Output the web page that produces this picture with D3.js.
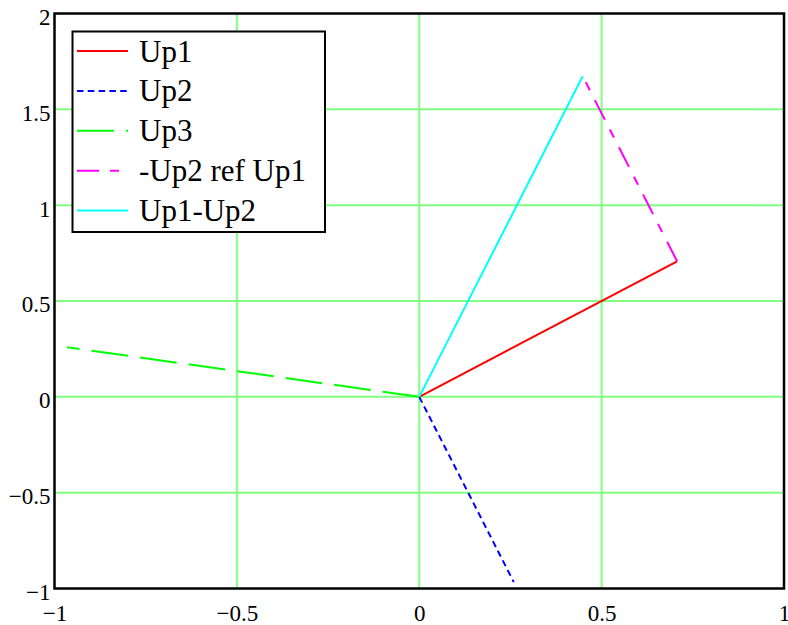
<!DOCTYPE html>
<html>
<head>
<meta charset="utf-8">
<script src="https://cdn.jsdelivr.net/npm/d3@7"></script>
<style>
  html, body { margin: 0; padding: 0; background: #fff; }
  svg { display: block; }
</style>
</head>
<body>
<svg id="chart" width="788" height="625"></svg>
<script>
// Phasor end points (x, y); every series is a straight segment between two points
const seriesNames = ["Up1", "Up2", "Up3", "-Up2 ref Up1", "Up1-Up2"];
const up1 = [[0, 0], [0.707, 0.707]];
const up2 = [[0, 0], [0.259, -0.966]];
const up3 = [[0, 0], [-0.966, 0.259]];
const up2RefUp1 = [[0.707, 0.707], [0.448, 1.673]];
const up1MinusUp2 = [[0, 0], [0.448, 1.673]];

const xTicks = [-1, -0.5, 0, 0.5, 1];
const yTicks = [-1, -0.5, 0, 0.5, 1, 1.5, 2];
const xTickLabels = ["\u22121", "\u22120.5", "0", "0.5", "1"];
const yTickLabels = ["\u22121", "\u22120.5", "0", "0.5", "1", "1.5", "2"];

const seriesData = [up1, up2, up3, up2RefUp1, up1MinusUp2];
const seriesColors = ["#ff0000", "#0000ff", "#00ff00", "#ff00ff", "#00ffff"];
const seriesDash = [null, "6.5,4.3", "37,12", "22,11,9,11", null];

const FONT = '"Liberation Serif"';

const svg = d3.select("#chart");
const plot = { left: 54.5, right: 784, top: 13.5, bottom: 588.5 };

const x = d3.scaleLinear().domain([-1, 1]).range([plot.left, plot.right]);
const y = d3.scaleLinear().domain([-1, 2]).range([plot.bottom, plot.top]);

// grid lines (interior ticks only)
const grid = svg.append("g").attr("stroke", "#80ff80").attr("stroke-width", 2);
grid.selectAll("line.gx")
  .data(xTicks.filter(v => v > -1 && v < 1))
  .join("line")
  .attr("x1", d => x(d)).attr("x2", d => x(d))
  .attr("y1", plot.top).attr("y2", plot.bottom);
grid.selectAll("line.gy")
  .data(yTicks.filter(v => v > -1 && v < 2))
  .join("line")
  .attr("x1", plot.left).attr("x2", plot.right)
  .attr("y1", d => y(d)).attr("y2", d => y(d));

// phasor segments
const line = d3.line().x(d => x(d[0])).y(d => y(d[1]));
svg.append("g").selectAll("path")
  .data(seriesData)
  .join("path")
  .attr("d", d => line(d))
  .attr("fill", "none")
  .attr("stroke", (d, i) => seriesColors[i])
  .attr("stroke-width", 2)
  .attr("stroke-dasharray", (d, i) => seriesDash[i]);

// frame
svg.append("rect")
  .attr("x", plot.left).attr("y", plot.top)
  .attr("width", plot.right - plot.left).attr("height", plot.bottom - plot.top)
  .attr("fill", "none").attr("stroke", "#000").attr("stroke-width", 2.5);

// axis labels
const xAxis = d3.axisBottom(x).tickValues(xTicks)
  .tickFormat((d, i) => xTickLabels[i]).tickSize(0).tickPadding(0);
const gx = svg.append("g").attr("transform", `translate(0,${plot.bottom})`).call(xAxis);
gx.select(".domain").remove();
gx.selectAll("text")
  .attr("y", 32).attr("dy", null)
  .attr("fill", "#000")
  .style("font-family", FONT)
  .style("font-size", "23px");

const yAxis = d3.axisLeft(y).tickValues(yTicks)
  .tickFormat((d, i) => yTickLabels[i]).tickSize(0).tickPadding(0);
const gy = svg.append("g").attr("transform", `translate(${plot.left},0)`).call(yAxis);
gy.select(".domain").remove();
gy.selectAll("text")
  .attr("x", -4).attr("dy", "0.65em").attr("y", -4)
  .attr("fill", "#000")
  .style("font-family", FONT)
  .style("font-size", "23px");

// legend
const legend = svg.append("g");
legend.append("rect")
  .attr("x", 72.5).attr("y", 31.5).attr("width", 252.5).attr("height", 200.5)
  .attr("fill", "#fff").attr("stroke", "#000").attr("stroke-width", 2);
const rowY = i => 51 + i * 39.9;
const rows = legend.selectAll("g.row")
  .data(seriesNames)
  .join("g").attr("class", "row");
rows.append("line")
  .attr("x1", 77).attr("x2", 128)
  .attr("y1", (d, i) => rowY(i)).attr("y2", (d, i) => rowY(i))
  .attr("stroke", (d, i) => seriesColors[i])
  .attr("stroke-width", 2)
  .attr("stroke-dasharray", (d, i) => seriesDash[i]);
rows.append("text")
  .attr("x", 139)
  .attr("y", (d, i) => rowY(i) + 10.5)
  .attr("fill", "#000")
  .style("font-family", FONT)
  .style("font-size", "31px")
  .text(d => d);
</script>
</body>
</html>
